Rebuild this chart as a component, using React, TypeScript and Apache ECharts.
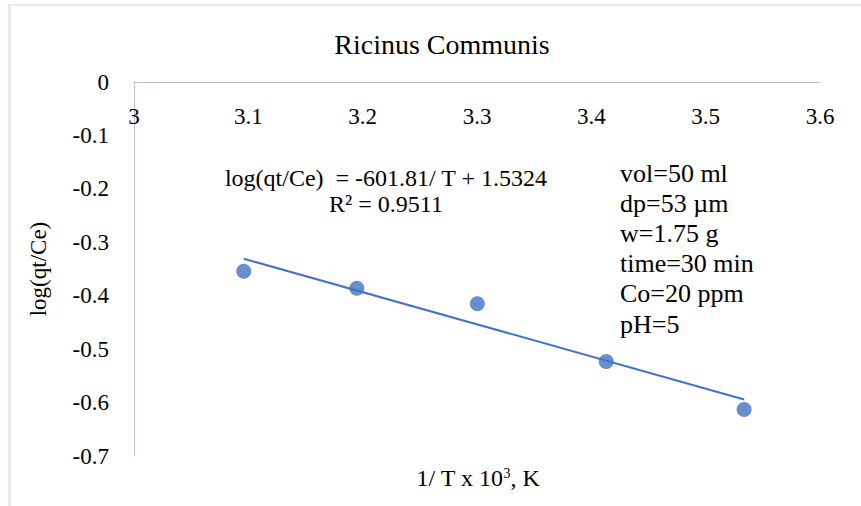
import React, { useEffect, useRef } from "react";
import * as echarts from "echarts";

const invTemp = [3.096, 3.1949, 3.3003, 3.413, 3.5336];
const logQtCe = [-0.354, -0.386, -0.415, -0.523, -0.613];
const trendSlope = -0.60181;
const trendIntercept = 1.5324;
const xTicks = { min: 3, max: 3.6, interval: 0.1 };
const yTicks = { min: -0.7, max: 0, interval: 0.1 };
const titleText = "Ricinus Communis";
const equationLines = ["log(qt/Ce)  = -601.81/ T + 1.5324", "R² = 0.9511"];
const conditions = ["vol=50 ml", "dp=53 µm", "w=1.75 g", "time=30 min", "Co=20 ppm", "pH=5"];

const FONT = "'Liberation Serif', 'Times New Roman', serif";
const BLUE = "#4472C4";
const AXIS = "#b4c1d9";

export default function App() {
  const ref = useRef<HTMLDivElement>(null);
  useEffect(() => {
    if (!ref.current) return;
    const chart = echarts.init(ref.current, undefined, { renderer: "svg" });
    const xs = [invTemp[0], invTemp[invTemp.length - 1]];
    const trend = xs.map((x) => [x, trendSlope * x + trendIntercept]);
    chart.setOption({
      animation: false,
      backgroundColor: "#ffffff",
      grid: { left: 134, top: 82, right: 41, bottom: 50 },
      xAxis: {
        type: "value",
        position: "top",
        min: xTicks.min,
        max: xTicks.max,
        interval: xTicks.interval,
        axisLine: { show: true, onZero: false, lineStyle: { color: AXIS, width: 1 } },
        axisTick: { show: false },
        splitLine: { show: false },
        axisLabel: {
          inside: true,
          margin: 23,
          color: "#000",
          fontFamily: FONT,
          fontSize: 23,
          formatter: (v: number) => String(Math.round(v * 10) / 10),
        },
      },
      yAxis: {
        type: "value",
        min: yTicks.min,
        max: yTicks.max,
        interval: yTicks.interval,
        name: "log(qt/Ce)",
        nameLocation: "middle",
        nameGap: 84,
        nameRotate: 90,
        nameTextStyle: { color: "#000", fontFamily: FONT, fontSize: 23 },
        axisLine: { show: true, lineStyle: { color: AXIS, width: 1 } },
        axisTick: { show: false },
        splitLine: { show: false },
        axisLabel: {
          margin: 25,
          color: "#000",
          fontFamily: FONT,
          fontSize: 23,
          formatter: (v: number) => String(Math.round(v * 10) / 10),
        },
      },
      series: [
        {
          type: "line",
          data: trend,
          symbol: "none",
          lineStyle: { color: BLUE, width: 2 },
          z: 2,
        },
        {
          type: "scatter",
          data: invTemp.map((x, i) => [x, logQtCe[i]]),
          symbol: "circle",
          symbolSize: 15,
          itemStyle: { color: BLUE },
          z: 3,
        },
      ],
      graphic: [
        { type: "rect", shape: { x: 8, y: 4, width: 3, height: 502 }, style: { fill: "#e4e8f0" } },
        { type: "rect", shape: { x: 8, y: 4, width: 853, height: 2 }, style: { fill: "#e4e8f0" } },
        {
          type: "text",
          x: 442,
          y: 44,
          style: { text: titleText, fill: "#000", font: `28px ${FONT}`, align: "center", verticalAlign: "middle" },
        },
        {
          type: "text",
          x: 386,
          y: 178,
          style: { text: equationLines[0], fill: "#000", font: `24px ${FONT}`, align: "center", verticalAlign: "middle" },
        },
        {
          type: "text",
          x: 386,
          y: 204,
          style: { text: equationLines[1], fill: "#000", font: `24px ${FONT}`, align: "center", verticalAlign: "middle" },
        },
        ...conditions.map((t, i) => ({
          type: "text",
          x: 620,
          y: 173 + i * 30.2,
          style: { text: t, fill: "#000", font: `26px ${FONT}`, align: "left", verticalAlign: "middle" },
        })),
        {
          type: "text",
          x: 478,
          y: 478,
          style: {
            text: "1/ T x 10{sup|3}, K",
            fill: "#000",
            font: `24px ${FONT}`,
            align: "center",
            verticalAlign: "middle",
            rich: {
              sup: { fontSize: 14, fontFamily: FONT, fill: "#000", verticalAlign: "top", padding: [0, 0, 10, 0] },
            },
          },
        },
      ],
    });
    return () => chart.dispose();
  }, []);
  return (
    <div
      ref={ref}
      style={{ position: "fixed", left: 0, top: 0, width: 861, height: 506, background: "#fff" }}
    />
  );
}
